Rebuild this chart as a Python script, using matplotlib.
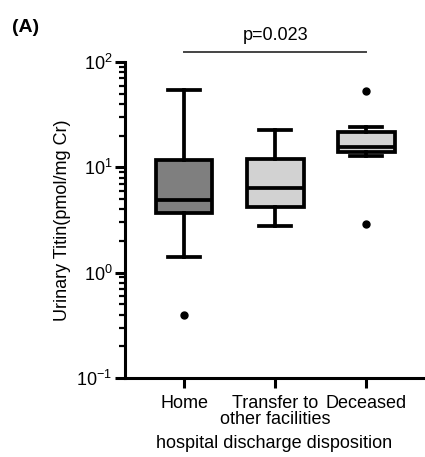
import matplotlib
matplotlib.use("Agg")
import matplotlib.pyplot as plt
from matplotlib.ticker import LogLocator, NullFormatter

plt.rcParams['font.family'] = ['Liberation Sans', 'DejaVu Sans']
plt.rcParams['mathtext.fontset'] = 'custom'
plt.rcParams['mathtext.rm'] = 'Liberation Sans'
plt.rcParams['mathtext.it'] = 'Liberation Sans'

categories = ["Home", "Transfer to\nother facilities", "Deceased"]
whislo = [1.42, 2.75, 12.9]
q1 = [3.7, 4.2, 14.1]
med = [4.85, 6.4, 15.5]
q3 = [11.8, 12.1, 21.8]
whishi = [54.0, 22.6, 24.0]
fliers = [[0.40], [], [53.5, 2.9]]
fills = ["#7f7f7f", "#d2d2d2", "#d2d2d2"]
p_text = "p=0.023"

fs = 13
fig = plt.figure(figsize=(4.25, 4.57), dpi=100)
ax = fig.add_axes([0.294, 0.173, 0.701, 0.691])

stats = []
for i in range(3):
    stats.append(dict(med=med[i], q1=q1[i], q3=q3[i], whislo=whislo[i],
                      whishi=whishi[i], fliers=fliers[i]))

lw = 2.7
bp = ax.bxp(stats, positions=[1, 2, 3], widths=0.62, patch_artist=True,
            showfliers=True,
            boxprops=dict(linewidth=lw, edgecolor='black'),
            medianprops=dict(color='black', linewidth=lw),
            whiskerprops=dict(color='black', linewidth=lw),
            capprops=dict(color='black', linewidth=lw),
            flierprops=dict(marker='o', markerfacecolor='black',
                            markeredgecolor='black', markersize=5),
            capwidths=0.35)
for patch, c in zip(bp['boxes'], fills):
    patch.set_facecolor(c)

ax.set_yscale('log')
ax.set_ylim(0.1, 100)
ax.set_xlim(0.35, 3.62)
ax.yaxis.set_major_locator(LogLocator(base=10, numticks=10))
ax.yaxis.set_minor_locator(LogLocator(base=10, subs=range(2, 10), numticks=10))
ax.yaxis.set_minor_formatter(NullFormatter())
ax.set_xticks([1, 2, 3])
ax.set_xticklabels(categories, fontsize=fs, linespacing=0.95)

for s in ['top', 'right']:
    ax.spines[s].set_visible(False)
for s in ['left', 'bottom']:
    ax.spines[s].set_linewidth(2.2)
ax.tick_params(axis='both', which='major', length=7, width=2.2, labelsize=fs)
ax.tick_params(axis='y', which='minor', length=4.5, width=1.6)
ax.tick_params(axis='x', pad=5)
ax.tick_params(axis='y', pad=2)

ax.set_ylabel("Urinary Titin(pmol/mg Cr)", fontsize=fs, labelpad=4)
ax.set_xlabel("hospital discharge disposition", fontsize=fs, labelpad=5)

# significance bar
ax.plot([1, 3], [124, 124], color='#444444', lw=1.4, clip_on=False)
ax.text(2, 150, p_text, ha='center', va='bottom', fontsize=fs)

fig.text(0.028, 0.94, "(A)", fontsize=14, fontweight='semibold', ha='left', va='center')

fig.savefig("out.png", dpi=100, facecolor='white')
